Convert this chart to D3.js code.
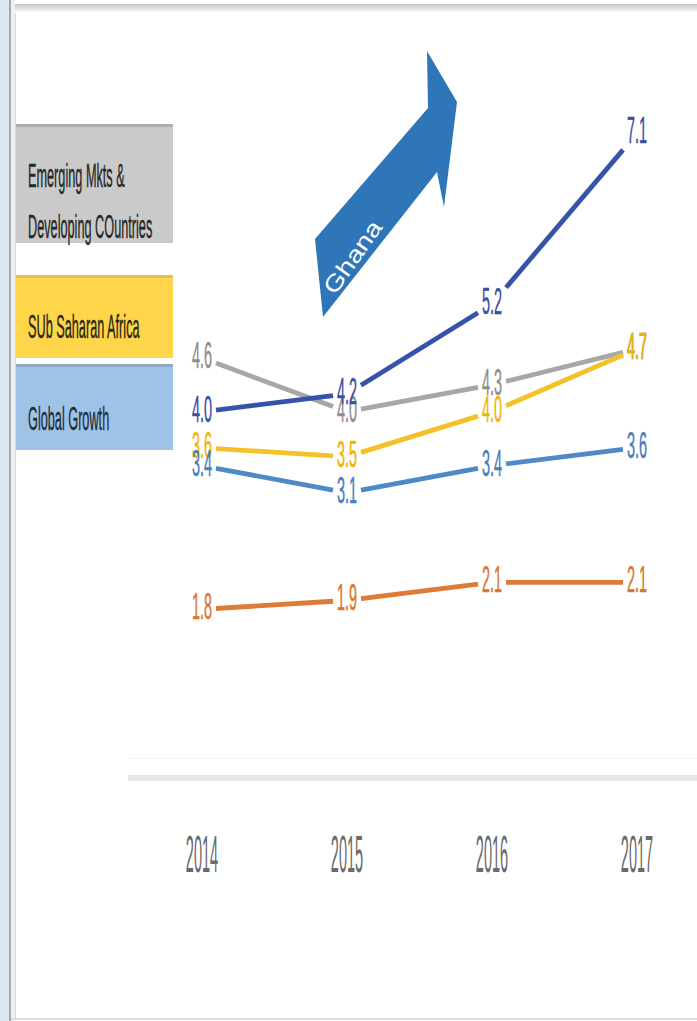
<!DOCTYPE html>
<html>
<head>
<meta charset="utf-8">
<script src="https://cdn.jsdelivr.net/npm/d3@7"></script>
<style>
  html, body { margin: 0; padding: 0; background: #fff; overflow: hidden; }
  svg { display: block; }
</style>
</head>
<body>
<svg id="chart" width="697" height="1021"></svg>
<script>
// ---- data ----
const years = [2014, 2015, 2016, 2017];
const yearLabels = ["2014", "2015", "2016", "2017"];
const ghana = [4.0, 4.2, 5.2, 7.1];
const emergingMkts = [4.6, 4.0, 4.3, 4.7];
const subSaharan = [3.6, 3.5, 4.0, 4.7];
const globalGrowth = [3.4, 3.1, 3.4, 3.6];
const orangeSeries = [1.8, 1.9, 2.1, 2.1];
const legendLabels = [
  ["Emerging Mkts &", "Developing COuntries"],
  ["SUb Saharan Africa"],
  ["Global Growth"]
];
const arrowLabel = "Ghana";

// ---- styling ----
const series = [
  { values: emergingMkts, line: "#a7a7a7", label: "#8e8e8e" },
  { values: subSaharan,   line: "#f5c12b", label: "#f0b400" },
  { values: globalGrowth, line: "#5089c8", label: "#4a7cc0" },
  { values: orangeSeries, line: "#de7b36", label: "#d9772f" },
  { values: ghana,        line: "#3553a8", label: "#3b4fa2" }
];
const legendStyle = [
  { y: 124, h: 119, fill: "#cacaca", edge: "#adadad", text: "#262626", base: [187, 238] },
  { y: 275, h: 83,  fill: "#ffd54a", edge: "#e3bf55", text: "#2a2414", base: [338] },
  { y: 364, h: 86,  fill: "#9fc3e7", edge: "#8fa9c4", text: "#1e2c3a", base: [430] }
];
const FONT = "'Liberation Sans', Arial, sans-serif";

const svg = d3.select("#chart");

// ---- page frame ----
svg.append("rect").attr("x", 0).attr("y", 0).attr("width", 697).attr("height", 1021).attr("fill", "#fff");
svg.append("rect").attr("x", 0).attr("y", 0).attr("width", 9).attr("height", 1021).attr("fill", "#dde8f4");
svg.append("rect").attr("x", 9).attr("y", 0).attr("width", 2).attr("height", 1021).attr("fill", "#a9a9a9");
svg.append("rect").attr("x", 11).attr("y", 0).attr("width", 4).attr("height", 1021).attr("fill", "#f1f1f1");
svg.append("rect").attr("x", 15).attr("y", 4).attr("width", 1).attr("height", 1015).attr("fill", "#dadada");
const defs = svg.append("defs");
const topShade = defs.append("linearGradient").attr("id", "topShade").attr("x1", 0).attr("x2", 0).attr("y1", 0).attr("y2", 1);
topShade.append("stop").attr("offset", "0%").attr("stop-color", "#c6c6c6");
topShade.append("stop").attr("offset", "100%").attr("stop-color", "#ffffff");
svg.append("rect").attr("x", 15).attr("y", 4).attr("width", 682).attr("height", 9).attr("fill", "url(#topShade)");
svg.append("rect").attr("x", 11).attr("y", 1018).attr("width", 686).attr("height", 2).attr("fill", "#dcdcdc");

// ---- scales ----
const x = d3.scaleLinear().domain([2014, 2017]).range([202, 637]);
const y = d3.scaleLinear().domain([0, 8]).range([771, 52.6]);

function sText(sel, px, py, str, size, sx, color, anchor) {
  return sel.append("text")
    .attr("transform", `translate(${px},${py}) scale(${sx},1)`)
    .attr("font-family", FONT)
    .attr("font-size", size)
    .attr("fill", color)
    .attr("text-anchor", anchor)
    .text(str);
}

// ---- axis ----
svg.append("rect").attr("x", 128).attr("y", y(0) - 13).attr("width", 569).attr("height", 1).attr("fill", "#f4f4f4");
svg.append("rect").attr("x", 128).attr("y", y(0) + 4).attr("width", 569).attr("height", 6).attr("fill", "#e6e6e6");
const yearG = svg.append("g");
years.forEach((yr, i) => sText(yearG, x(yr), 872, yearLabels[i], 52, 0.28, "#6a6a6a", "middle"));

// ---- legend boxes ----
const legend = svg.append("g");
legendLabels.forEach((lines, i) => {
  const st = legendStyle[i];
  legend.append("rect").attr("x", 16).attr("y", st.y).attr("width", 157).attr("height", st.h).attr("fill", st.fill);
  legend.append("rect").attr("x", 16).attr("y", st.y).attr("width", 157).attr("height", 3).attr("fill", st.edge);
  lines.forEach((t, j) => sText(legend, 28, st.base[j], t, 33, 0.385, st.text, "start")
    .attr("stroke", st.text).attr("stroke-width", 0.4));
});

// ---- Ghana arrow ----
const arrow = svg.append("g");
arrow.append("polygon")
  .attr("points", [[315, 239], [428, 108], [427, 51], [457, 102], [444, 207], [437, 172], [323, 317]].map(p => p.join(",")).join(" "))
  .attr("fill", "#2f76b8");
arrow.append("text")
  .attr("transform", "translate(335,296) rotate(-55)")
  .attr("font-family", FONT)
  .attr("font-size", 23)
  .attr("fill", "#ffffff")
  .attr("textLength", 84)
  .attr("lengthAdjust", "spacingAndGlyphs")
  .text(arrowLabel);

// ---- lines (segments trimmed around the value labels) ----
const GAP = 14;
const linesG = svg.append("g");
series.forEach(s => {
  const pts = s.values.map((v, i) => [x(years[i]), y(v)]);
  d3.pairs(pts).forEach(([a, b]) => {
    const dx = b[0] - a[0], dy = b[1] - a[1];
    const t = GAP / dx;
    linesG.append("line")
      .attr("x1", a[0] + dx * t).attr("y1", a[1] + dy * t)
      .attr("x2", b[0] - dx * t).attr("y2", b[1] - dy * t)
      .attr("stroke", s.line)
      .attr("stroke-width", 4.8)
      .attr("stroke-linecap", "butt");
  });
});

// ---- value labels ----
const labelsG = svg.append("g");
series.forEach(s => {
  s.values.forEach((v, i) => {
    sText(labelsG, x(years[i]), y(v) + 10, v.toFixed(1), 36, 0.40, s.label, "middle")
      .attr("stroke", s.label).attr("stroke-width", 0.5);
  });
});
</script>
</body>
</html>
